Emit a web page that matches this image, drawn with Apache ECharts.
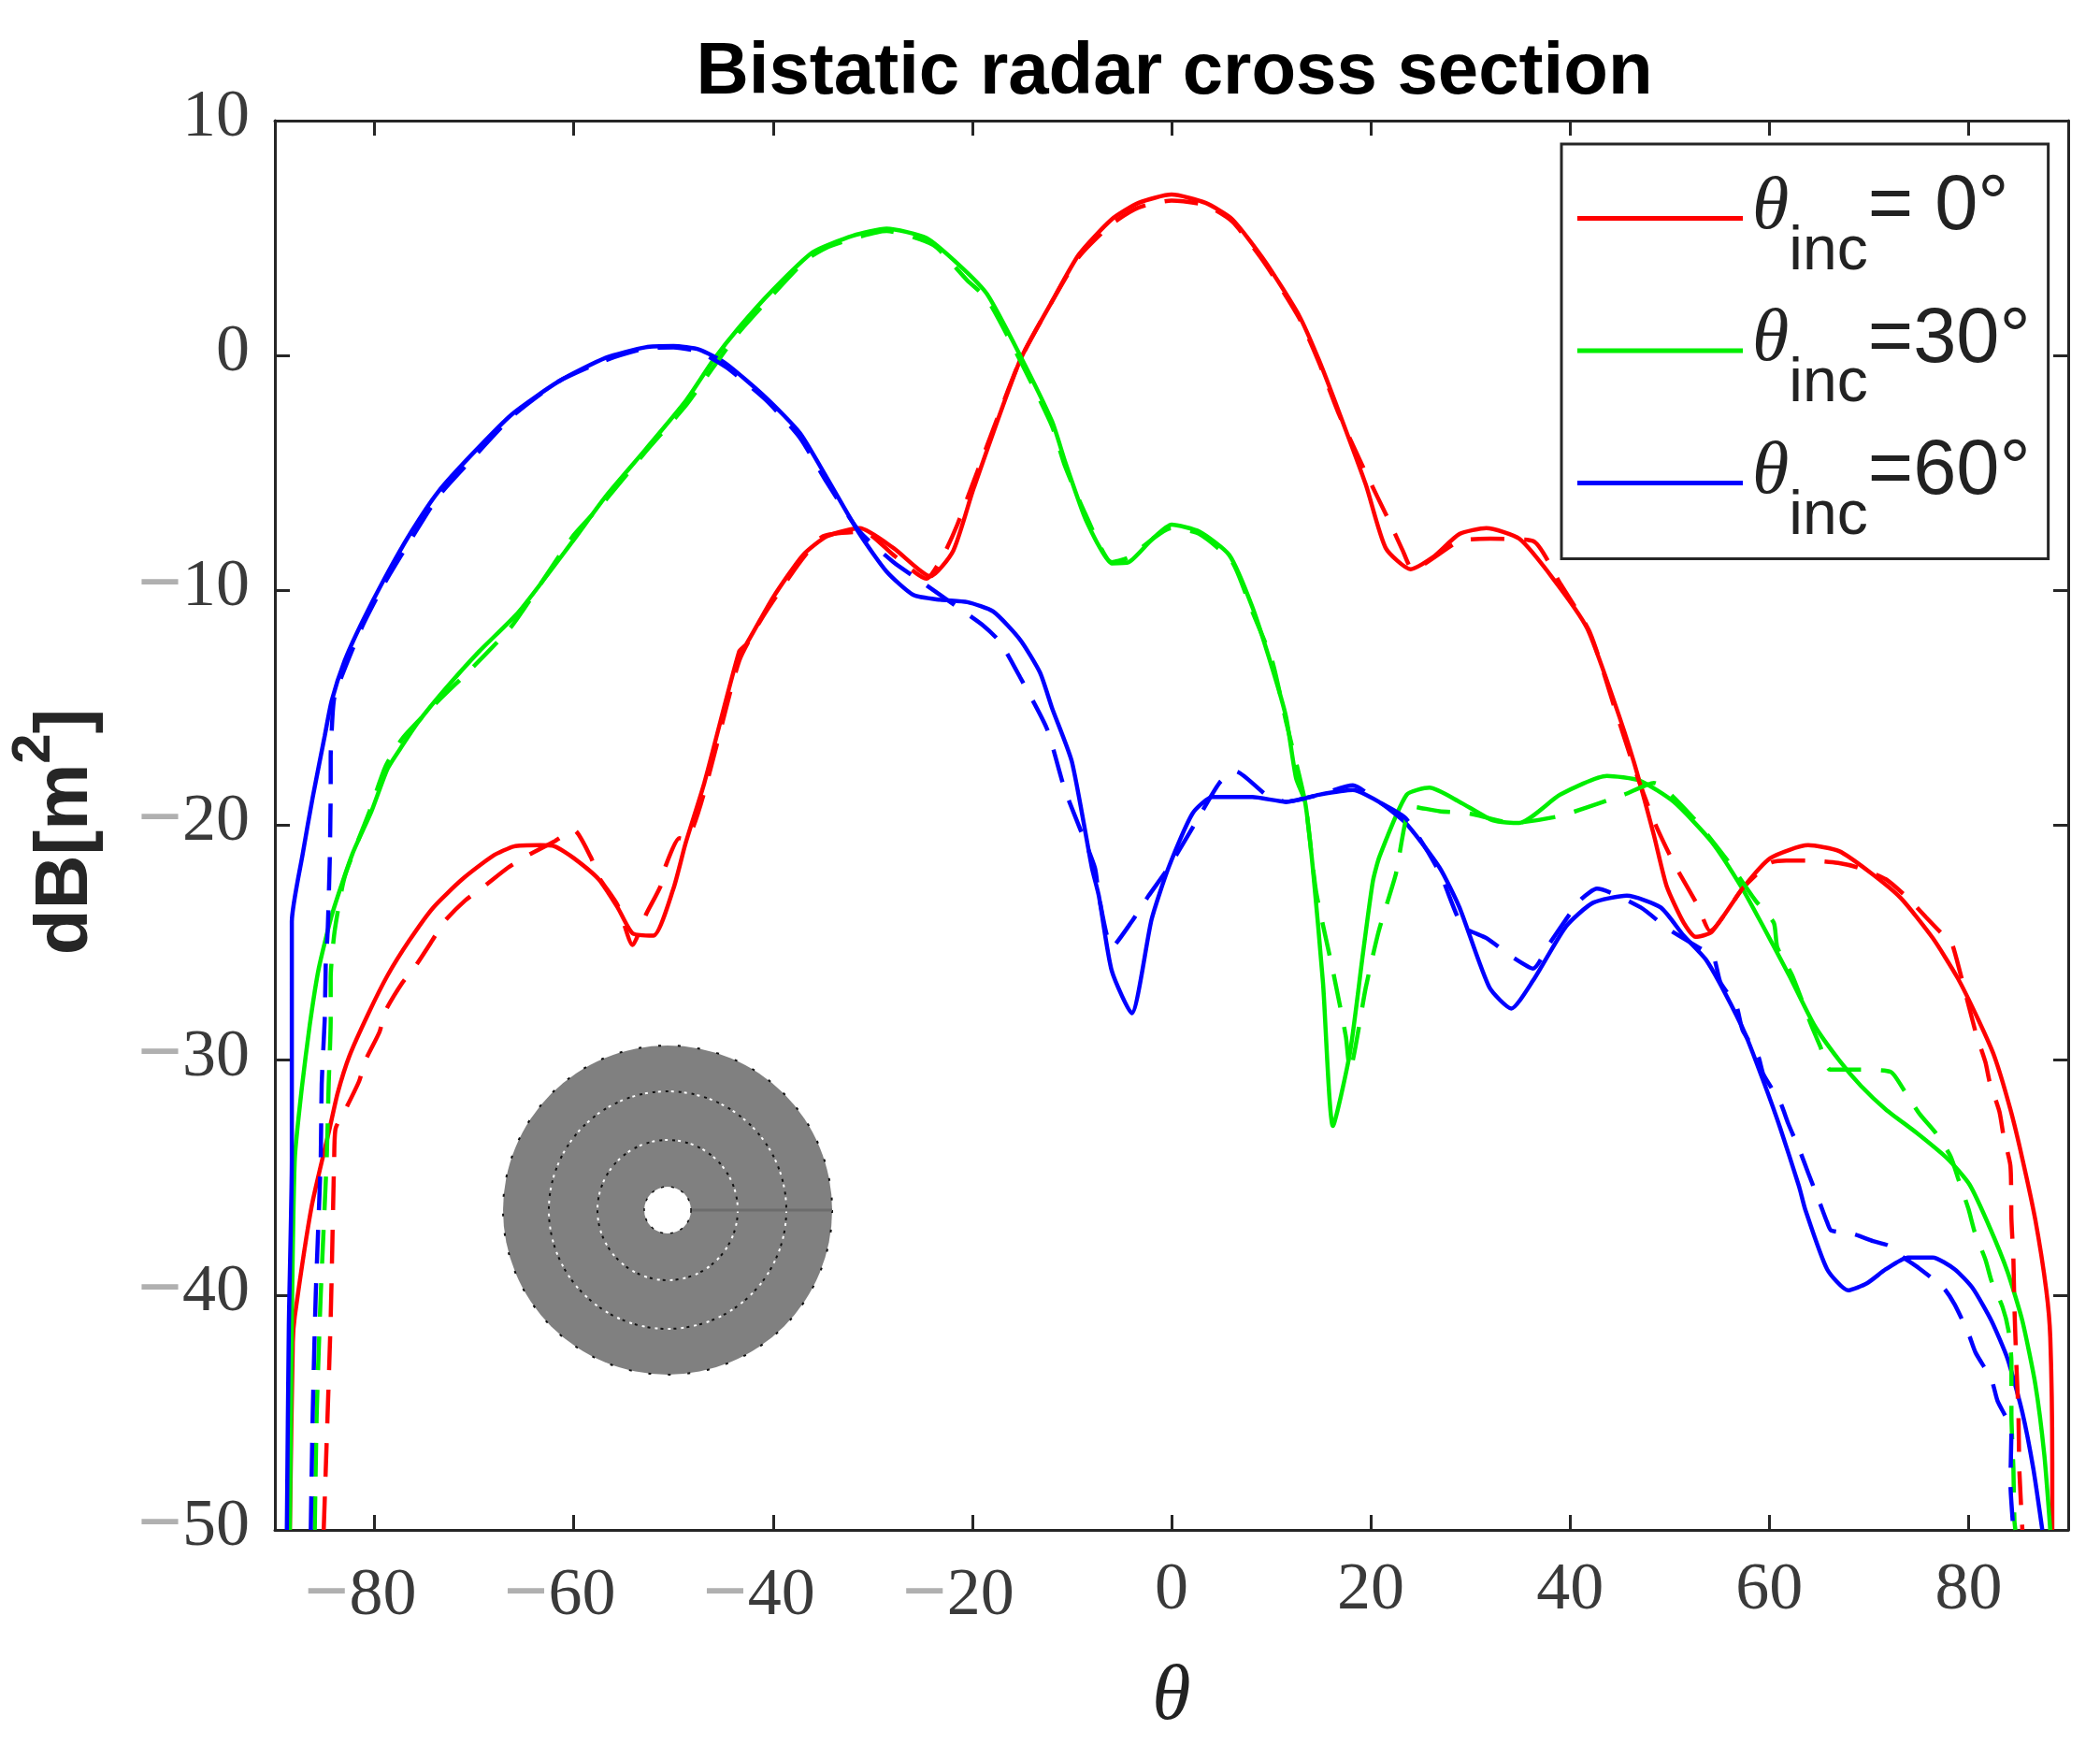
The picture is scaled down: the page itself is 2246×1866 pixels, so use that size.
<!DOCTYPE html>
<html>
<head>
<meta charset="utf-8">
<title>Bistatic radar cross section</title>
<script src="https://cdn.jsdelivr.net/npm/echarts@6/dist/echarts.min.js"></script>
<style>
html, body { margin: 0; padding: 0; background: #fff; }
#miGrafica { width: 2246px; height: 1866px; }
</style>
</head>
<body>
<div id="miGrafica"></div>
<script>
// Datos: [theta, dB]
var xTicks = [-80, -60, -40, -20, 0, 20, 40, 60, 80];

var red0Solid = [[-88.5,-50],[-88.2,-42],[-88,-40.9],[-86.3,-36.2],[-84.5,-32.9],[-83.7,-31.4],[-82.5,-29.8],[-80.6,-28],[-78.7,-26.4],[-76.5,-24.9],[-74.1,-23.5],[-71.2,-22.3],[-68.1,-21.3],[-66,-20.9],[-63.4,-20.85],[-61.9,-20.9],[-60,-21.4],[-57.5,-22.3],[-55.6,-23.5],[-54.1,-24.6],[-52,-24.7],[-50,-22.7],[-48.8,-20.8],[-46.9,-18.2],[-43.4,-12.6],[-42.7,-12.3],[-40,-10.3],[-37,-8.5],[-34.6,-7.7],[-31.3,-7.35],[-27.9,-8.2],[-24.2,-9.4],[-21.9,-8.3],[-19.9,-5.7],[-15.2,-0.2],[-12,2.3],[-9.3,4.3],[-6,5.8],[-3.3,6.5],[0,6.85],[3.4,6.5],[6.1,5.8],[9.4,4],[12.8,1.7],[14.8,-0.2],[16.8,-2.4],[19.5,-5.5],[21.5,-8.2],[24,-9.1],[26.2,-8.6],[28.9,-7.6],[31.6,-7.35],[34.9,-7.8],[38.3,-9.5],[41.7,-11.6],[44.4,-14.7],[46.4,-17.3],[48.4,-20.4],[49.7,-22.6],[51.4,-24.15],[52.6,-24.75],[54.2,-24.55],[57.3,-22.7],[60.1,-21.4],[63.9,-20.85],[67,-21.1],[70.1,-22],[73.2,-23.1],[76.4,-24.8],[78.9,-26.5],[81,-28.3],[82.6,-29.85],[84.2,-32.1],[85.4,-34.2],[86.7,-36.8],[87.8,-39.8],[88.2,-41.8],[88.4,-47.1],[88.4,-50]];
var red0Dashed = [[-85.1,-50],[-84.4,-41],[-84.05,-34.2],[-83.9,-32.9],[-82.8,-32],[-81.55,-30.9],[-80.9,-30],[-79.5,-28.8],[-78.9,-27.9],[-77.2,-26.7],[-75.9,-26],[-74.2,-24.9],[-73,-24.1],[-70.9,-23.2],[-69,-22.6],[-66.6,-21.8],[-64.7,-21.3],[-62,-20.7],[-60,-20.2],[-58.3,-21.35],[-57.5,-22.2],[-55.6,-23.4],[-54.1,-25.1],[-52.7,-23.75],[-51.3,-22.6],[-50.8,-21.75],[-49.4,-20.55],[-48.8,-20.6],[-43.4,-13],[-41,-11.1],[-37.3,-8.8],[-35,-7.7],[-30.9,-7.5],[-27.9,-8.5],[-24.6,-9.5],[-22.9,-8.5],[-21.5,-7.2],[-19.9,-5.4],[-15.2,-0.2],[-12,2.3],[-9.3,4.2],[-6,5.6],[-3.3,6.3],[0,6.6],[3.4,6.4],[6.1,5.7],[9.4,3.9],[12.8,1.6],[14.8,-0.3],[16.8,-2.5],[19.5,-5],[21.9,-7.1],[23.2,-8.3],[24.2,-9.1],[28.9,-7.9],[32,-7.8],[36.3,-7.9],[39,-9.7],[42,-11.8],[44.4,-14.9],[46.4,-17.5],[48.4,-19.8],[50.4,-21.6],[52.8,-23.4],[54.05,-24.5],[57.3,-22.7],[60.1,-21.6],[61.7,-21.5],[63.9,-21.5],[66.9,-21.6],[68.9,-21.8],[71.7,-22.3],[73.9,-23.1],[75.7,-23.9],[77.3,-24.6],[78.2,-24.9],[78.8,-25.7],[80.7,-28.8],[81.7,-30.1],[82.1,-30.9],[83.1,-32.2],[83.5,-33.2],[84.2,-34.5],[84.3,-36.75],[84.5,-38.5],[84.6,-40.5],[84.8,-43],[85,-45],[85.1,-47.5],[85.4,-50]];

var green30Solid = [[-88.5,-50],[-88.3,-41],[-88,-34.2],[-87.3,-31.2],[-86.5,-28.5],[-85.6,-26.1],[-84.2,-23.7],[-82.2,-21.2],[-80.3,-19.4],[-78.7,-17.6],[-77.2,-16.6],[-75.6,-15.6],[-72.9,-14.2],[-69.5,-12.6],[-65.5,-10.9],[-60.1,-7.9],[-56.8,-6],[-52.8,-4],[-48.7,-1.9],[-46,-0.2],[-43.4,1.2],[-40,2.8],[-36,4.4],[-32,5.1],[-28.6,5.4],[-24.6,5],[-21.2,3.8],[-18.5,2.6],[-15.2,0],[-12,-2.8],[-10.7,-4.5],[-8.7,-6.9],[-7.3,-8.1],[-6,-8.85],[-4.3,-8.8],[-1.9,-7.8],[0,-7.2],[2.8,-7.5],[5.8,-8.5],[8.1,-10.7],[10.1,-13.3],[11.5,-15.4],[12.5,-18],[13.4,-19],[14.2,-21.9],[15.2,-26.7],[16.2,-32.8],[17.9,-29.7],[19.2,-25.5],[20.2,-22.4],[20.9,-21.3],[23.6,-18.7],[25.9,-18.4],[28.9,-19],[32.3,-19.8],[34.9,-19.9],[39,-18.7],[43.7,-17.9],[47,-18.1],[50.4,-19],[54.2,-20.7],[57.3,-22.7],[59.5,-24.4],[62,-26.4],[64.5,-28.5],[67,-30],[69.2,-31.1],[71.7,-32.1],[74.8,-33.1],[77.9,-34.2],[80.1,-35.3],[82.1,-37.1],[83.9,-39],[85.4,-41.1],[86.7,-43.8],[87.6,-46.8],[88.2,-50]];
var green30Dashed = [[-86,-50],[-85.8,-45],[-85.4,-40],[-84.8,-34.2],[-84.6,-31],[-84.4,-28.3],[-84.4,-26.5],[-84,-24.5],[-83,-22.2],[-80.5,-19.4],[-78.9,-17.5],[-77.2,-16.3],[-73.6,-14.7],[-70.2,-13.3],[-66.2,-11.5],[-60.1,-7.7],[-57.1,-6.3],[-52.8,-4.1],[-48.7,-2.1],[-46,-0.5],[-43.4,1],[-40,2.6],[-36.6,4.1],[-34,4.7],[-28.6,5.3],[-23.9,4.7],[-20.5,3.2],[-18.5,2.4],[-15.2,-0.2],[-12,-3],[-10.7,-4.7],[-8.7,-6.7],[-6,-8.8],[-4.3,-8.6],[0,-7.35],[2.8,-7.6],[6.1,-8.8],[8.1,-10.9],[10.1,-13],[11.5,-15.6],[13.4,-19],[14.5,-22.8],[16.2,-26.2],[17.5,-29],[17.9,-30.4],[19.5,-26.9],[20.8,-24.5],[22.5,-22.1],[24.1,-19.2],[26.9,-19.4],[29.9,-19.5],[34.2,-19.9],[39,-19.6],[45.4,-18.7],[48.4,-18.2],[52.4,-19.7],[55.8,-21.5],[58.6,-23.2],[60.45,-24.15],[60.8,-25.2],[62.3,-26.4],[64.2,-28.5],[65.1,-29.4],[66.1,-30.4],[69,-30.4],[72.2,-30.5],[73.4,-31.2],[75.1,-32.3],[76.7,-33.1],[78.2,-34.1],[79,-35.1],[80,-36.35],[80.6,-37.3],[81.7,-38.5],[82.3,-39.4],[83.4,-40.5],[84,-41.5],[84.3,-42.85],[84.3,-45.1],[84.5,-47.4],[84.6,-49.6],[84.7,-50]];

var blue60Solid = [[-88.8,-50],[-88.6,-41.3],[-88.3,-34.2],[-88.3,-24.1],[-87.2,-21.2],[-86.2,-18.8],[-85,-16.2],[-84.3,-14.7],[-83,-13],[-81.3,-11.4],[-79,-9.5],[-76.3,-7.5],[-73.6,-5.8],[-70.2,-4.2],[-66.2,-2.5],[-61.5,-1.1],[-56.8,-0.1],[-52.8,0.35],[-50,0.4],[-47.4,0.25],[-44.7,-0.35],[-40.7,-1.8],[-37.3,-3.3],[-34.6,-5.2],[-31.3,-7.6],[-28.6,-9.2],[-25.9,-10.2],[-23.2,-10.4],[-20.5,-10.5],[-17.9,-10.9],[-15.2,-12.1],[-13.2,-13.5],[-12,-15],[-10,-17.3],[-8,-21.8],[-7.3,-23],[-6,-26.2],[-4,-28],[-2,-24],[-0.3,-21.8],[2.1,-19.5],[4.1,-18.8],[8.1,-18.8],[11.5,-19],[14.8,-18.7],[18.2,-18.5],[20.8,-19],[23.5,-19.9],[26.9,-21.8],[28.9,-23.5],[31.9,-26.9],[34.1,-27.8],[36.3,-26.6],[39.6,-24.3],[42.3,-23.3],[45.7,-23],[49.1,-23.5],[51.4,-24.7],[53.6,-25.7],[55.5,-27.1],[57.6,-28.9],[59.5,-31],[61.1,-32.9],[63,-35.4],[63.6,-36.35],[65.8,-38.9],[67.9,-39.8],[69.8,-39.5],[71.7,-38.9],[73.9,-38.4],[76.4,-38.4],[78.6,-38.9],[80.4,-39.7],[82.3,-41.1],[83.9,-42.7],[85.4,-45],[86.5,-47.4],[87.4,-50]];
var blue60Dashed = [[-86.4,-50],[-86.2,-45],[-85.9,-40],[-85.4,-34.2],[-85.3,-31],[-85,-28.3],[-84.9,-26],[-84.7,-24.5],[-84.5,-21.6],[-84.4,-18.4],[-84.4,-17.1],[-84.3,-16],[-84,-14.5],[-81.3,-11.6],[-79,-9.7],[-76.3,-7.8],[-73.6,-6],[-70.2,-4.4],[-66.2,-2.6],[-61.5,-1.1],[-56.8,-0.2],[-52.8,0.3],[-50,0.35],[-47.4,0.15],[-44.7,-0.5],[-40.7,-1.9],[-37.3,-3.5],[-34.6,-5.4],[-31.3,-7.5],[-27.9,-8.8],[-25.2,-9.6],[-21.2,-10.8],[-18.9,-11.5],[-17.2,-12.2],[-15.2,-13.7],[-12.5,-15.9],[-10.7,-18.5],[-7.7,-21.8],[-7.3,-23],[-6,-25.2],[-4,-24.1],[-2.3,-23],[-0.3,-21.8],[2.4,-19.9],[4.8,-18.2],[6.4,-17.7],[9.5,-18.7],[11.5,-19],[14.8,-18.7],[18.2,-18.3],[20.8,-19],[23.5,-19.7],[26.9,-22],[29.2,-24.3],[31.6,-24.8],[34.2,-25.6],[36.3,-26.1],[38,-25],[41,-23.2],[42.7,-22.7],[47.1,-23.5],[49.8,-24.4],[53.3,-25.3],[54.4,-25.6],[55.1,-26.7],[56.7,-27.7],[57.3,-28.7],[58.9,-29.85],[59.4,-30.6],[61.1,-31.8],[61.9,-32.7],[63.1,-33.9],[63.9,-34.8],[65,-36],[65.8,-36.9],[66.2,-37.25],[68.4,-37.4],[70.4,-37.7],[72,-37.9],[73.1,-38.3],[75,-38.85],[77.5,-39.7],[78.6,-40.4],[80,-41.65],[80.7,-42.45],[82.3,-43.6],[82.9,-44.5],[84.3,-45.8],[84.2,-48],[84.5,-50]];

var legendNames = ['{t|θ}{s|inc}{e|= 0°}', '{t|θ}{s|inc}{e|=30°}', '{t|θ}{s|inc}{e|=60°}'];

var dom = document.getElementById('miGrafica');
var myChart = echarts.init(dom, null, { renderer: 'canvas' });

var inkColor = '#262626';

// etiquetas de eje con el signo menos en gris, como en la figura
function tickLabelX(v) {
    return v < 0 ? '{m|\u2212}{n|' + (-v) + '}' : '{d|' + v + '}';
}
function tickLabelY(v) {
    return v < 0 ? '{m|\u2212}{d|' + (-v) + '}' : '{d|' + v + '}';
}
var tickRich = {
    d: { fontFamily: 'Liberation Serif', fontSize: 72, color: '#3a3a3a' },
    n: { fontFamily: 'Liberation Serif', fontSize: 72, color: '#3a3a3a', padding: [0, 30, 0, 0] },
    m: { fontFamily: 'Liberation Serif', fontSize: 84, fontWeight: 'bold', color: '#b0b0b0' }
};

function lineSeries(name, data, color, dashed) {
    return {
        name: name,
        type: 'line',
        data: data,
        symbol: 'none',
        smooth: 0.2,
        clip: true,
        lineStyle: { color: color, width: 4.5, type: dashed ? [36, 21] : 'solid' },
        itemStyle: { color: color }
    };
}

function ring(r, color, dash, offset, width) {
    return {
        type: 'circle',
        shape: { cx: 714, cy: 1294, r: r },
        style: { fill: 'none', stroke: color, lineWidth: width, lineDash: dash, lineDashOffset: offset }
    };
}

var option = {
    animation: false,
    backgroundColor: '#fff',
    title: {
        text: 'Bistatic radar cross section',
        left: 1251,
        top: 34,
        textAlign: 'center',
        textStyle: { fontFamily: 'Liberation Sans', fontWeight: 'bold', fontSize: 78, color: '#000' }
    },
    grid: { left: 291, right: 34, top: 129, bottom: 230 },
    legend: {
        data: legendNames,
        orient: 'vertical',
        icon: 'rect',
        left: 1670,
        top: 154,
        padding: [27, 19, 12, 17],
        itemGap: 20,
        itemWidth: 177,
        itemHeight: 5,
        borderColor: inkColor,
        borderWidth: 3,
        backgroundColor: '#fff',
        selectedMode: false,
        textStyle: {
            rich: {
                t: { fontFamily: 'Liberation Serif', fontStyle: 'italic', fontSize: 80, color: '#222', padding: [0, 0, 22, 5] },
                s: { fontFamily: 'Liberation Sans', fontSize: 66, color: '#222', padding: [72, 0, 0, 0] },
                e: { fontFamily: 'Liberation Sans', fontSize: 83, color: '#222', padding: [0, 0, 22, 0], width: 190 }
            }
        }
    },
    xAxis: [
        {
            type: 'value', min: -90, max: 90,
            name: 'θ', nameLocation: 'middle', nameGap: 138,
            nameTextStyle: { fontFamily: 'Liberation Serif', fontStyle: 'italic', fontSize: 84, color: '#222' },
            axisLine: { show: true, onZero: false, lineStyle: { color: inkColor, width: 3 } },
            axisTick: { show: true, inside: true, length: 16, customValues: xTicks, lineStyle: { color: inkColor, width: 3 } },
            axisLabel: { show: true, customValues: xTicks, formatter: tickLabelX, margin: 29, fontSize: 72, rich: tickRich },
            splitLine: { show: false }
        },
        {
            type: 'value', min: -90, max: 90, position: 'top',
            axisLine: { show: true, onZero: false, lineStyle: { color: inkColor, width: 3 } },
            axisTick: { show: true, inside: true, length: 16, customValues: xTicks, lineStyle: { color: inkColor, width: 3 } },
            axisLabel: { show: false },
            splitLine: { show: false }
        }
    ],
    yAxis: [
        {
            type: 'value', min: -50, max: 10, interval: 10,
            name: '{b|dB[m}{p|2}{c|]}', nameLocation: 'middle', nameRotate: 90, nameGap: 160,
            nameTextStyle: {
                fontSize: 80,
                rich: {
                    b: { fontFamily: 'Liberation Sans', fontWeight: 'bold', fontSize: 80, color: '#262626' },
                    c: { fontFamily: 'Liberation Sans', fontWeight: 'bold', fontSize: 80, color: '#262626', padding: [0, 14, 0, 0] },
                    p: { fontFamily: 'Liberation Sans', fontWeight: 'bold', fontSize: 58, color: '#262626', padding: [0, 0, 68, 0] }
                }
            },
            axisLine: { show: true, onZero: false, lineStyle: { color: inkColor, width: 3 } },
            axisTick: { show: true, inside: true, length: 16, lineStyle: { color: inkColor, width: 3 } },
            axisLabel: { show: true, formatter: tickLabelY, margin: 27, fontSize: 72, padding: [0, 0, 6, 0], rich: tickRich },
            splitLine: { show: false }
        },
        {
            type: 'value', min: -50, max: 10, interval: 10, position: 'right',
            axisLine: { show: true, onZero: false, lineStyle: { color: inkColor, width: 3 } },
            axisTick: { show: true, inside: true, length: 16, lineStyle: { color: inkColor, width: 3 } },
            axisLabel: { show: false },
            splitLine: { show: false }
        }
    ],
    series: [
        lineSeries(legendNames[0], red0Solid, '#ff0000', false),
        lineSeries(legendNames[1], green30Solid, '#00ee00', false),
        lineSeries(legendNames[2], blue60Solid, '#0000ff', false),
        lineSeries('red dashed', red0Dashed, '#ff0000', true),
        lineSeries('green dashed', green30Dashed, '#00ee00', true),
        lineSeries('blue dashed', blue60Dashed, '#0000ff', true)
    ],
    // geometria del recuadro: disco gris con anillos punteados
    graphic: {
        elements: [
            { type: 'circle', shape: { cx: 714, cy: 1294, r: 176 }, style: { fill: '#808080' } },
            ring(176, '#111', [3, 18], 0, 2),
            ring(127, '#fff', [3, 11], 0, 2),
            ring(127, '#111', [3, 11], 6, 2),
            ring(75, '#fff', [3, 11], 0, 2),
            ring(75, '#111', [3, 11], 6, 2),
            { type: 'line', shape: { x1: 739, y1: 1294, x2: 890, y2: 1294 }, style: { stroke: '#6c6c6c', lineWidth: 3 } },
            { type: 'circle', shape: { cx: 714, cy: 1294, r: 25 }, style: { fill: '#fff', stroke: '#111', lineWidth: 1.5, lineDash: [3, 8] } }
        ]
    }
};

if (option && typeof option === 'object') {
    myChart.setOption(option);
}

window.addEventListener('resize', myChart.resize);
</script>
</body>
</html>
